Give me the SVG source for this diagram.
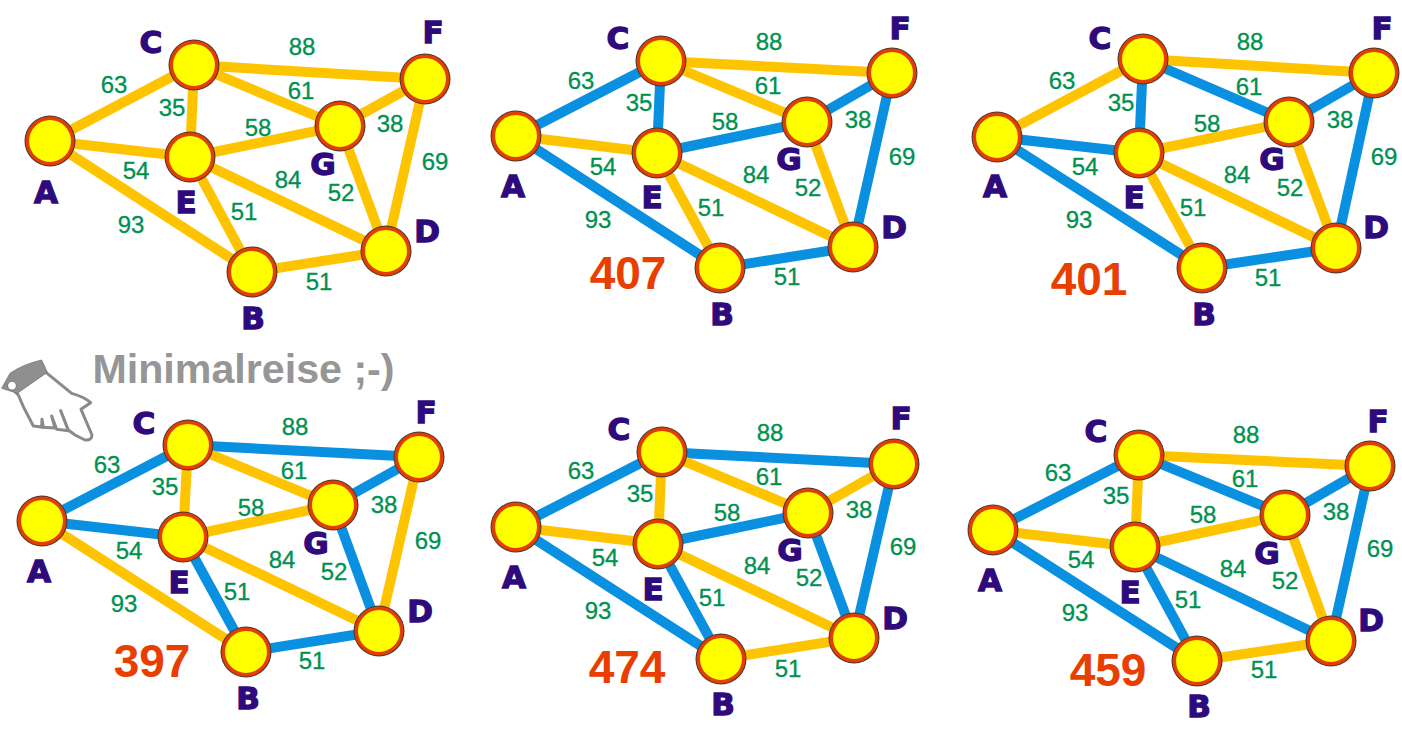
<svg xmlns="http://www.w3.org/2000/svg" width="1402" height="746" viewBox="0 0 1402 746">
<style>
text{font-family:"Liberation Sans",Arial,sans-serif;text-anchor:middle}
line{stroke-width:10}
.y{stroke:#ffc400}
.b{stroke:#0a90e0}
.w{font-size:24px;fill:#00914f;stroke:#00914f;stroke-width:.3px}
.l{font-family:"DejaVu Sans",sans-serif;font-size:31px;font-weight:bold;fill:#2f0a7c;stroke:#2f0a7c;stroke-width:1.3px}
.t{font-size:46px;font-weight:bold;fill:#e83e00}
.o{fill:#4a3a35}
.r{fill:#ffff00;stroke:#e33d00;stroke-width:3.5}
</style>
<defs>
<g id="n"><circle r="25.5" class="o"/><circle r="22.7" class="r"/></g>
</defs>
<rect width="1402" height="746" fill="#fff"/>
<g id="connectors">
<g id="edges-1">
<line class="y" x1="50" y1="141" x2="194" y2="65"/><line class="y" x1="50" y1="141" x2="190" y2="157"/><line class="y" x1="50" y1="141" x2="252" y2="272"/><line class="y" x1="194" y1="65" x2="190" y2="157"/><line class="y" x1="194" y1="65" x2="425" y2="79"/><line class="y" x1="194" y1="65" x2="340" y2="126"/><line class="y" x1="190" y1="157" x2="340" y2="126"/><line class="y" x1="190" y1="157" x2="252" y2="272"/><line class="y" x1="190" y1="157" x2="386" y2="251"/><line class="y" x1="340" y1="126" x2="425" y2="79"/><line class="y" x1="340" y1="126" x2="386" y2="251"/><line class="y" x1="425" y1="79" x2="386" y2="251"/><line class="y" x1="252" y1="272" x2="386" y2="251"/>
</g>
<g id="edges-2">
<line class="b" x1="516" y1="136" x2="661" y2="61"/><line class="y" x1="516" y1="136" x2="657" y2="153"/><line class="b" x1="516" y1="136" x2="720" y2="268"/><line class="b" x1="661" y1="61" x2="657" y2="153"/><line class="y" x1="661" y1="61" x2="892" y2="73"/><line class="y" x1="661" y1="61" x2="807" y2="122"/><line class="b" x1="657" y1="153" x2="807" y2="122"/><line class="y" x1="657" y1="153" x2="720" y2="268"/><line class="y" x1="657" y1="153" x2="853" y2="247"/><line class="b" x1="807" y1="122" x2="892" y2="73"/><line class="y" x1="807" y1="122" x2="853" y2="247"/><line class="b" x1="892" y1="73" x2="853" y2="247"/><line class="b" x1="720" y1="268" x2="853" y2="247"/>
</g>
<g id="edges-3">
<line class="y" x1="997" y1="137" x2="1143" y2="59"/><line class="b" x1="997" y1="137" x2="1139" y2="153"/><line class="b" x1="997" y1="137" x2="1202" y2="268"/><line class="b" x1="1143" y1="59" x2="1139" y2="153"/><line class="y" x1="1143" y1="59" x2="1374" y2="73"/><line class="b" x1="1143" y1="59" x2="1289" y2="122"/><line class="y" x1="1139" y1="153" x2="1289" y2="122"/><line class="y" x1="1139" y1="153" x2="1202" y2="268"/><line class="y" x1="1139" y1="153" x2="1336" y2="248"/><line class="b" x1="1289" y1="122" x2="1374" y2="73"/><line class="y" x1="1289" y1="122" x2="1336" y2="248"/><line class="b" x1="1374" y1="73" x2="1336" y2="248"/><line class="b" x1="1202" y1="268" x2="1336" y2="248"/>
</g>
<g id="edges-4">
<line class="b" x1="42" y1="521" x2="188" y2="445"/><line class="b" x1="42" y1="521" x2="183" y2="537"/><line class="y" x1="42" y1="521" x2="246" y2="652"/><line class="y" x1="188" y1="445" x2="183" y2="537"/><line class="b" x1="188" y1="445" x2="419" y2="457"/><line class="y" x1="188" y1="445" x2="333" y2="505"/><line class="y" x1="183" y1="537" x2="333" y2="505"/><line class="b" x1="183" y1="537" x2="246" y2="652"/><line class="y" x1="183" y1="537" x2="379" y2="631"/><line class="b" x1="333" y1="505" x2="419" y2="457"/><line class="b" x1="333" y1="505" x2="379" y2="631"/><line class="y" x1="419" y1="457" x2="379" y2="631"/><line class="b" x1="246" y1="652" x2="379" y2="631"/>
</g>
<g id="edges-5">
<line class="b" x1="516" y1="527" x2="662" y2="452"/><line class="y" x1="516" y1="527" x2="658" y2="544"/><line class="b" x1="516" y1="527" x2="721" y2="659"/><line class="y" x1="662" y1="452" x2="658" y2="544"/><line class="b" x1="662" y1="452" x2="894" y2="464"/><line class="y" x1="662" y1="452" x2="808" y2="513"/><line class="b" x1="658" y1="544" x2="808" y2="513"/><line class="b" x1="658" y1="544" x2="721" y2="659"/><line class="y" x1="658" y1="544" x2="854" y2="638"/><line class="y" x1="808" y1="513" x2="894" y2="464"/><line class="b" x1="808" y1="513" x2="854" y2="638"/><line class="b" x1="894" y1="464" x2="854" y2="638"/><line class="y" x1="721" y1="659" x2="854" y2="638"/>
</g>
<g id="edges-6">
<line class="b" x1="993" y1="530" x2="1139" y2="455"/><line class="y" x1="993" y1="530" x2="1135" y2="547"/><line class="b" x1="993" y1="530" x2="1197" y2="661"/><line class="y" x1="1139" y1="455" x2="1135" y2="547"/><line class="y" x1="1139" y1="455" x2="1370" y2="466"/><line class="b" x1="1139" y1="455" x2="1285" y2="515"/><line class="y" x1="1135" y1="547" x2="1285" y2="515"/><line class="b" x1="1135" y1="547" x2="1197" y2="661"/><line class="b" x1="1135" y1="547" x2="1331" y2="641"/><line class="b" x1="1285" y1="515" x2="1370" y2="466"/><line class="y" x1="1285" y1="515" x2="1331" y2="641"/><line class="b" x1="1370" y1="466" x2="1331" y2="641"/><line class="y" x1="1197" y1="661" x2="1331" y2="641"/>
</g>
</g>
<g id="weights">
<text class="w" x="114" y="93">63</text><text class="w" x="172" y="116">35</text><text class="w" x="302" y="55">88</text><text class="w" x="301" y="99">61</text><text class="w" x="258" y="136">58</text><text class="w" x="390" y="132">38</text><text class="w" x="435" y="170">69</text><text class="w" x="136" y="179">54</text><text class="w" x="288" y="188">84</text><text class="w" x="341" y="201">52</text><text class="w" x="244" y="220">51</text><text class="w" x="131" y="233">93</text><text class="w" x="319" y="290">51</text>
<text class="w" x="581" y="89">63</text><text class="w" x="639" y="111">35</text><text class="w" x="769" y="50">88</text><text class="w" x="768" y="94">61</text><text class="w" x="725" y="130">58</text><text class="w" x="858" y="128">38</text><text class="w" x="902" y="165">69</text><text class="w" x="603" y="175">54</text><text class="w" x="756" y="183">84</text><text class="w" x="808" y="196">52</text><text class="w" x="711" y="216">51</text><text class="w" x="598" y="228">93</text><text class="w" x="787" y="285">51</text>
<text class="w" x="1062" y="89">63</text><text class="w" x="1121" y="111">35</text><text class="w" x="1250" y="50">88</text><text class="w" x="1249" y="95">61</text><text class="w" x="1207" y="132">58</text><text class="w" x="1340" y="128">38</text><text class="w" x="1384" y="165">69</text><text class="w" x="1085" y="175">54</text><text class="w" x="1237" y="183">84</text><text class="w" x="1290" y="196">52</text><text class="w" x="1193" y="216">51</text><text class="w" x="1079" y="228">93</text><text class="w" x="1268" y="286">51</text>
<text class="w" x="107" y="473">63</text><text class="w" x="165" y="495">35</text><text class="w" x="295" y="435">88</text><text class="w" x="294" y="479">61</text><text class="w" x="251" y="516">58</text><text class="w" x="384" y="513">38</text><text class="w" x="428" y="549">69</text><text class="w" x="129" y="559">54</text><text class="w" x="282" y="568">84</text><text class="w" x="334" y="580">52</text><text class="w" x="237" y="600">51</text><text class="w" x="124" y="612">93</text><text class="w" x="312" y="669">51</text>
<text class="w" x="581" y="479">63</text><text class="w" x="640" y="502">35</text><text class="w" x="770" y="441">88</text><text class="w" x="769" y="485">61</text><text class="w" x="727" y="521">58</text><text class="w" x="859" y="518">38</text><text class="w" x="903" y="555">69</text><text class="w" x="605" y="566">54</text><text class="w" x="757" y="574">84</text><text class="w" x="809" y="586">52</text><text class="w" x="712" y="606">51</text><text class="w" x="598" y="619">93</text><text class="w" x="788" y="677">51</text>
<text class="w" x="1058" y="481">63</text><text class="w" x="1116" y="504">35</text><text class="w" x="1246" y="443">88</text><text class="w" x="1245" y="487">61</text><text class="w" x="1203" y="523">58</text><text class="w" x="1336" y="520">38</text><text class="w" x="1380" y="557">69</text><text class="w" x="1081" y="568">54</text><text class="w" x="1233" y="577">84</text><text class="w" x="1285" y="589">52</text><text class="w" x="1188" y="608">51</text><text class="w" x="1075" y="621">93</text><text class="w" x="1264" y="678">51</text>
</g>
<g id="p1-A"><use href="#n" x="50" y="141"/><text class="l" x="46" y="203">A</text></g>
<g id="p1-B"><use href="#n" x="252" y="272"/><text class="l" x="253" y="329">B</text></g>
<g id="p1-C"><use href="#n" x="194" y="65"/><text class="l" x="151" y="53">C</text></g>
<g id="p1-D"><use href="#n" x="386" y="251"/><text class="l" x="427" y="242">D</text></g>
<g id="p1-E"><use href="#n" x="190" y="157"/><text class="l" x="186" y="213">E</text></g>
<g id="p1-F"><use href="#n" x="425" y="79"/><text class="l" x="433" y="43">F</text></g>
<g id="p1-G"><use href="#n" x="340" y="126"/><text class="l" x="323" y="175">G</text></g>
<g id="p2-A"><use href="#n" x="516" y="136"/><text class="l" x="513" y="197">A</text></g>
<g id="p2-B"><use href="#n" x="720" y="268"/><text class="l" x="722" y="325">B</text></g>
<g id="p2-C"><use href="#n" x="661" y="61"/><text class="l" x="618" y="49">C</text></g>
<g id="p2-D"><use href="#n" x="853" y="247"/><text class="l" x="894" y="238">D</text></g>
<g id="p2-E"><use href="#n" x="657" y="153"/><text class="l" x="652" y="208">E</text></g>
<g id="p2-F"><use href="#n" x="892" y="73"/><text class="l" x="900" y="39">F</text></g>
<g id="p2-G"><use href="#n" x="807" y="122"/><text class="l" x="789" y="170">G</text></g>
<g id="p3-A"><use href="#n" x="997" y="137"/><text class="l" x="995" y="197">A</text></g>
<g id="p3-B"><use href="#n" x="1202" y="268"/><text class="l" x="1204" y="325">B</text></g>
<g id="p3-C"><use href="#n" x="1143" y="59"/><text class="l" x="1100" y="49">C</text></g>
<g id="p3-D"><use href="#n" x="1336" y="248"/><text class="l" x="1376" y="238">D</text></g>
<g id="p3-E"><use href="#n" x="1139" y="153"/><text class="l" x="1134" y="208">E</text></g>
<g id="p3-F"><use href="#n" x="1374" y="73"/><text class="l" x="1382" y="39">F</text></g>
<g id="p3-G"><use href="#n" x="1289" y="122"/><text class="l" x="1272" y="170">G</text></g>
<g id="p4-A"><use href="#n" x="42" y="521"/><text class="l" x="39" y="582">A</text></g>
<g id="p4-B"><use href="#n" x="246" y="652"/><text class="l" x="248" y="709">B</text></g>
<g id="p4-C"><use href="#n" x="188" y="445"/><text class="l" x="144" y="434">C</text></g>
<g id="p4-D"><use href="#n" x="379" y="631"/><text class="l" x="420" y="622">D</text></g>
<g id="p4-E"><use href="#n" x="183" y="537"/><text class="l" x="179" y="593">E</text></g>
<g id="p4-F"><use href="#n" x="419" y="457"/><text class="l" x="426" y="423">F</text></g>
<g id="p4-G"><use href="#n" x="333" y="505"/><text class="l" x="316" y="554">G</text></g>
<g id="p5-A"><use href="#n" x="516" y="527"/><text class="l" x="514" y="588">A</text></g>
<g id="p5-B"><use href="#n" x="721" y="659"/><text class="l" x="723" y="715">B</text></g>
<g id="p5-C"><use href="#n" x="662" y="452"/><text class="l" x="619" y="440">C</text></g>
<g id="p5-D"><use href="#n" x="854" y="638"/><text class="l" x="895" y="629">D</text></g>
<g id="p5-E"><use href="#n" x="658" y="544"/><text class="l" x="653" y="600">E</text></g>
<g id="p5-F"><use href="#n" x="894" y="464"/><text class="l" x="901" y="429">F</text></g>
<g id="p5-G"><use href="#n" x="808" y="513"/><text class="l" x="790" y="561">G</text></g>
<g id="p6-A"><use href="#n" x="993" y="530"/><text class="l" x="990" y="591">A</text></g>
<g id="p6-B"><use href="#n" x="1197" y="661"/><text class="l" x="1199" y="717">B</text></g>
<g id="p6-C"><use href="#n" x="1139" y="455"/><text class="l" x="1096" y="442">C</text></g>
<g id="p6-D"><use href="#n" x="1331" y="641"/><text class="l" x="1371" y="631">D</text></g>
<g id="p6-E"><use href="#n" x="1135" y="547"/><text class="l" x="1130" y="603">E</text></g>
<g id="p6-F"><use href="#n" x="1370" y="466"/><text class="l" x="1378" y="432">F</text></g>
<g id="p6-G"><use href="#n" x="1285" y="515"/><text class="l" x="1267" y="564">G</text></g>
<text class="t" x="628" y="289">407</text>
<text class="t" x="1089" y="295">401</text>
<text class="t" x="152" y="677">397</text>
<text class="t" x="627" y="683">474</text>
<text class="t" x="1108" y="686">459</text>
<text x="243.5" y="383" font-size="41.2" font-weight="bold" fill="#969696">Minimalreise ;-)</text>
<g id="hand" transform="translate(0,340) scale(.3333)">
<path d="M45 155L135 95L215 160Q252 170 272 188L243 208L276 285Q276 302 255 300L225 285L205 270L182 212L205 272L170 268L155 228L165 264L125 262L126 238L130 262L100 258L70 200L55 165Z" fill="#fff" stroke="#8a8a8a" stroke-width="9" stroke-linejoin="round"/>
<path d="M218 168Q245 174 258 188L238 190Z" fill="#fff"/>
<path d="M5 145L30 100Q70 72 125 60L142 97L52 160Z" fill="#8f8f8f" stroke="#666" stroke-width="2" stroke-linejoin="round"/>
<circle cx="36" cy="137" r="13" fill="#fff" stroke="#555" stroke-width="2"/>
</g>
</svg>
